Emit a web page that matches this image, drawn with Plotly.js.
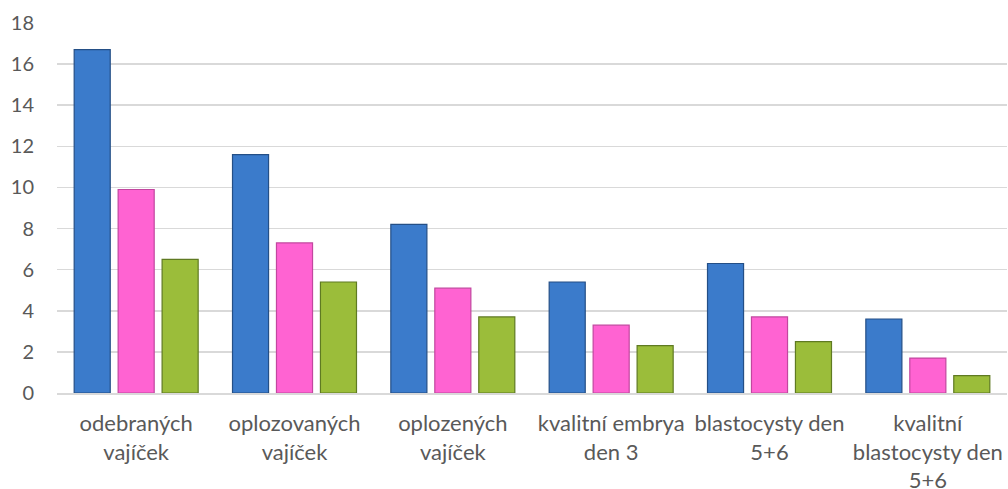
<!DOCTYPE html>
<html>
<head>
<meta charset="utf-8">
<script src="https://cdn.plot.ly/plotly-3.0.1.min.js"></script>
<style>html,body{margin:0;padding:0;background:#fff;}#chart{width:1008px;height:489px;}</style>
</head>
<body>
<div id="chart"></div>
<script>
const categories = [
  "odebraných<br>vajíček",
  "oplozovaných<br>vajíček",
  "oplozených<br>vajíček",
  "kvalitní embrya<br>den 3",
  "blastocysty den<br>5+6",
  "kvalitní<br>blastocysty den<br>5+6"
];
const seriesBlue = [16.7, 11.6, 8.2, 5.4, 6.3, 3.6];
const seriesPink = [9.9, 7.3, 5.1, 3.3, 3.7, 1.7];
const seriesGreen = [6.5, 5.4, 3.7, 2.3, 2.5, 0.85];
const yTicks = [0, 2, 4, 6, 8, 10, 12, 14, 16, 18];

function tr(y, fill, line) {
  return {
    type: 'bar', x: categories, y: y,
    marker: { color: fill, line: { color: line, width: 1.2 } },
    hoverinfo: 'y', showlegend: false
  };
}
const data = [
  tr(seriesBlue, '#3b7bcb', '#244f86'),
  tr(seriesPink, '#ff63d2', '#c2479f'),
  tr(seriesGreen, '#9bbd3a', '#5f7a22')
];
const layout = {
  width: 1008, height: 489,
  margin: { l: 57, r: 1, t: 23, b: 96 },
  paper_bgcolor: '#fff', plot_bgcolor: '#fff',
  barmode: 'group', bargap: 0.167, bargroupgap: 0.18,
  font: { family: 'Lato, "Open Sans", sans-serif', size: 18, color: '#595959' },
  xaxis: {
    showgrid: false, showline: true, linecolor: '#d9d9d9', linewidth: 1.5,
    ticks: '', ticklabelstandoff: 10,
    tickfont: { size: 22, color: '#595959' }, fixedrange: true
  },
  yaxis: {
    range: [0, 18], tickvals: yTicks, ticktext: yTicks.map(String),
    showgrid: true, gridcolor: '#d9d9d9', gridwidth: 1.5,
    zeroline: false, showline: false, ticks: '',
    ticklabelstandoff: 22,
    tickfont: { size: 20, color: '#595959' }, fixedrange: true
  }
};
Plotly.newPlot('chart', data, layout, { displayModeBar: false, staticPlot: true });
</script>
</body>
</html>
